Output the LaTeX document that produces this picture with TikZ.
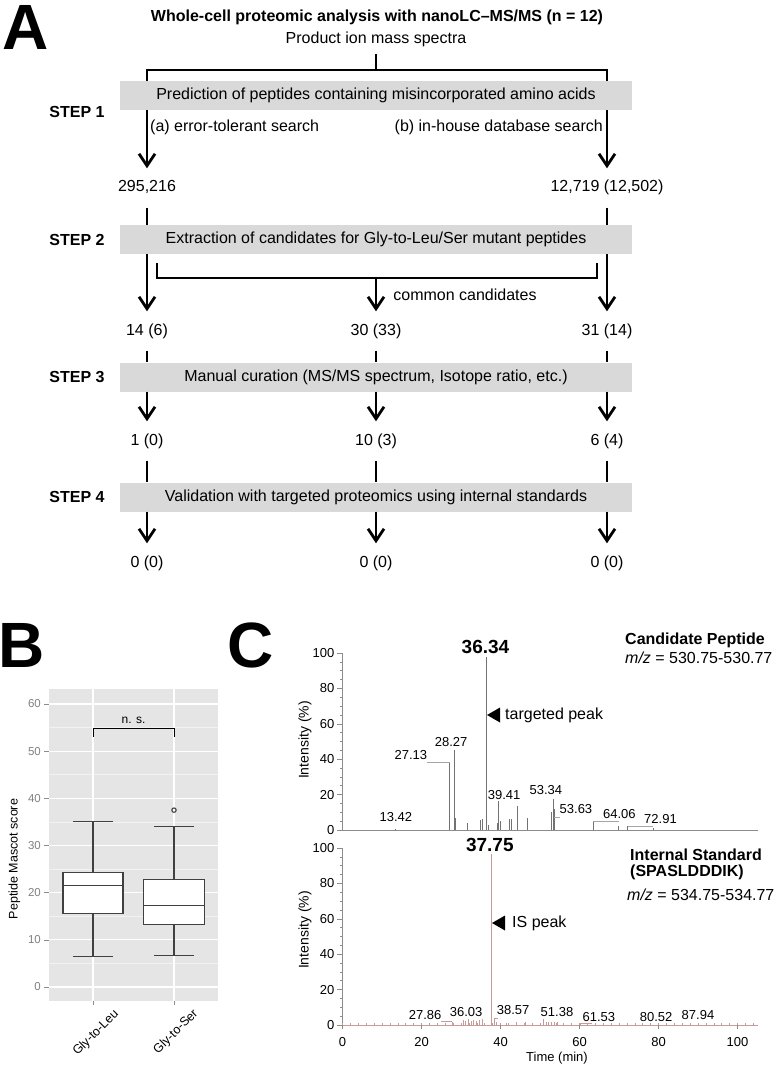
\documentclass[tikz,border=0pt]{standalone}
\usepackage{fontspec}
\setmainfont{Liberation Sans}
\usepackage{xcolor}
\usepackage{tikz}
\usetikzlibrary{arrows.meta,positioning,calc}

\newcommand{\fsize}[1]{\fontsize{#1}{#1}\selectfont}
\definecolor{stepgray}{RGB}{217,217,217}
\definecolor{plotgray}{RGB}{229,229,229}
\definecolor{minorgrid}{RGB}{242,242,242}
\definecolor{isrose}{RGB}{200,155,155}
\definecolor{axgray}{RGB}{140,140,140}

\begin{document}
\begin{tikzpicture}[
  x=1pt,y=-1pt,
  >={Straight Barb[length=12pt,width=16pt]},
  every node/.style={inner sep=0pt,font=\fsize{16}},
  stepbox/.style={fill=stepgray,minimum width=512pt,minimum height=29pt},
  steplabel/.style={font=\fsize{16}\bfseries},
  count/.style={inner sep=12pt,text height=11.5pt,text depth=3.5pt},
  flow/.style={line width=2.8pt},
  letter/.style={font=\fsize{64}\bfseries},
  grid major/.style={white,line width=1.1pt},
  grid minor/.style={minorgrid,line width=0.5pt},
  whisker/.style={draw=black!75,line width=1.1pt},
  tickmark/.style={black!45,line width=0.6pt},
  ticklabel/.style={font=\fsize{13}},
  peak/.style={black!55,line width=0.5pt},
  is peak/.style={isrose,line width=0.5pt},
  leader/.style={black!35,line width=0.4pt}
  ]
  \useasboundingbox (0,0) rectangle (778,1067);

  % A: workflow
  \node[letter] (A) at (26,27) {A};
  \node[font=\fsize{16}\bfseries] (title) at (377,17) {Whole-cell proteomic analysis with nanoLC--MS/MS (n = 12)};
  \node (prod) at (376,39) {Product ion mass spectra};
  \coordinate (split) at (376,70);

  \node[stepbox] (box1) at (376,95.5) {Prediction of peptides containing misincorporated amino acids};
  \node[steplabel,left=15pt of box1.west,yshift=-16.5pt] (s1) {STEP 1};
  \node[anchor=west] (srcha) at (150,127) {(a) error-tolerant search};
  \node[anchor=east] (srchb) at (603,127) {(b) in-house database search};
  \node[count] (n1a) at (147,188) {295,216};
  \node[count] (n1b) at (607,188) {12,719 (12,502)};

  \node[stepbox] (box2) at (376,239.5) {Extraction of candidates for Gly-to-Leu/Ser mutant peptides};
  \node[steplabel,left=15pt of box2.west] (s2) {STEP 2};
  \coordinate (common) at (376,278);
  \node[count] (n2a) at (147,331) {14 (6)};
  \node[count] (n2c) at (376,331) {30 (33)};
  \node[count] (n2b) at (607,331) {31 (14)};

  \node[stepbox] (box3) at (376,377) {Manual curation (MS/MS spectrum, Isotope ratio, etc.)};
  \node[steplabel,left=15pt of box3.west] (s3) {STEP 3};
  \node[count] (n3a) at (147,441) {1 (0)};
  \node[count] (n3c) at (376,441) {10 (3)};
  \node[count] (n3b) at (607,441) {6 (4)};

  \node[stepbox] (box4) at (376,497) {Validation with targeted proteomics using internal standards};
  \node[steplabel,left=15pt of box4.west] (s4) {STEP 4};
  \node[count] (n4a) at (147,563) {0 (0)};
  \node[count] (n4c) at (376,563) {0 (0)};
  \node[count] (n4b) at (607,563) {0 (0)};

  \draw[flow,shorten <=7pt] (prod) -- (split);
  \draw[flow] (box1.north -| n1a) |- (split) -| (box1.north -| n1b);
  \draw[flow,->] (box1.south -| n1a) -- (n1a);
  \draw[flow,->] (box1.south -| n1b) -- (n1b);
  \draw[flow] (n1a) -- (box2.north -| n1a);
  \draw[flow] (n1b) -- (box2.north -| n1b);
  \draw[flow,->] (box2.south -| n2a) -- (n2a);
  \draw[flow,->] (box2.south -| n2b) -- (n2b);
  \draw[flow] ($(box2.south -| n2a)+(10,9)$) |- (common) -| ($(box2.south -| n2b)+(-10,9)$);
  \draw[flow,->] (common) -- node[right=16pt] (cc) {common candidates} (n2c);
  \draw[flow] (n2a) -- (box3.north -| n2a);
  \draw[flow] (n2c) -- (box3.north -| n2c);
  \draw[flow] (n2b) -- (box3.north -| n2b);
  \draw[flow,->] (box3.south -| n3a) -- (n3a);
  \draw[flow,->] (box3.south -| n3c) -- (n3c);
  \draw[flow,->] (box3.south -| n3b) -- (n3b);
  \draw[flow] (n3a) -- (box4.north -| n3a);
  \draw[flow] (n3c) -- (box4.north -| n3c);
  \draw[flow] (n3b) -- (box4.north -| n3b);
  \draw[flow,->] (box4.south -| n4a) -- (n4a);
  \draw[flow,->] (box4.south -| n4c) -- (n4c);
  \draw[flow,->] (box4.south -| n4b) -- (n4b);

  % B: box plot of scores
  \node[letter] (B) at (22,645) {B};
  \begin{scope}[shift={(0,987)},y=4.717pt]
    \fill[plotgray] (49,-2.9) rectangle (218,63.2);
    \foreach \v in {5,15,...,55} \draw[grid minor] (49,\v) -- (218,\v);
    \foreach \v in {0,10,...,60} {
      \draw[grid major] (49,\v) -- (218,\v);
      \draw[tickmark] (44,\v) -- (49,\v);
      \node[font=\fsize{11.5},text=black!50,anchor=east] (sc\v) at (41,\v) {\v};
    }
    \foreach \c in {93,174} {
      \draw[grid major] (\c,-2.9) -- (\c,63.2);
      \draw[tickmark] (\c,-2.9) -- (\c,-3.8);
    }
    % Gly-to-Leu
    \draw[whisker] (93,6.5) -- (93,15.6) (93,24.2) -- (93,35) (73,6.5) -- (113,6.5) (73,35) -- (113,35);
    \draw[whisker,fill=white] (63,15.6) rectangle (123,24.2);
    \draw[whisker] (63,21.5) -- (123,21.5);
    % Gly-to-Ser
    \draw[whisker] (174,6.7) -- (174,13.2) (174,22.8) -- (174,34) (154,6.7) -- (194,6.7) (154,34) -- (194,34);
    \draw[whisker,fill=white] (143.5,13.2) rectangle (204.5,22.8);
    \draw[whisker] (143.5,17.3) -- (204.5,17.3);
    \draw[whisker] (174,37.5) circle[radius=2.2pt];
    \draw[line width=0.8pt] (93,53.1) -- (93,54.8) -- (174,54.8) -- (174,53.1);
    \node[font=\fsize{12}] (ns) at (133.5,56.6) {n. s.};
  \end{scope}
  \node[font=\fsize{12.5},rotate=90] (ylab) at (14.5,859) {Peptide Mascot score};
  \node[font=\fsize{12.5},rotate=45] (xleu) at (96,1033) {Gly-to-Leu};
  \node[font=\fsize{12.5},rotate=45] (xser) at (176,1032) {Gly-to-Ser};

  % C: chromatograms
  \node[letter] (C) at (251,645) {C};
  \begin{scope}[shift={(342.5,830)},x=3.95pt,y=1.77pt]
    \draw[axgray,line width=0.6pt] (0,100) -- (0,0) -- (105.3,0);
    \foreach \v in {0,5,...,100} \draw[tickmark] (0,\v) -- ++(-3pt,0pt);
    \foreach \v in {0,20,...,100} {
      \draw[tickmark] (0,\v) -- ++(-6pt,0pt);
      \node[ticklabel,anchor=east,xshift=-8pt] (ya\v) at (0,\v) {\v};
    }
    \foreach \t/\h in {13.4/0.6,27.13/38.4,28.27/45,28.5/7,31.6/4,34.8/5.6,35.4/6,36.34/97.5,37.0/3,
      39.1/4,39.41/16.4,39.9/5,42.3/6.4,42.7/6,44.2/13.6,46.8/6.6,52.9/10,53.34/17.7,53.6/12,
      63.5/4.7,69.9/2,72.2/2.3,78.7/1.2}
      \draw[peak] (\t,0) -- (\t,\h);
    \draw[leader] (21.4,38.4) -- (27.13,38.4);
    \draw[leader] (53.63,7.3) -- (55.0,7.3);
    \draw[leader] (63.5,4.7) -- (69.9,4.7);
    \draw[leader] (72.2,2.3) -- (78.7,2.3);
    \node[font=\fsize{19}\bfseries] (rt1) at (36.2,103.4) {36.34};
    \node[ticklabel] (p1342) at (13.5,7.3) {13.42};
    \node[ticklabel] (p2713) at (17.3,42.4) {27.13};
    \node[ticklabel] (p2827) at (27.5,49.7) {28.27};
    \node[ticklabel] (p3941) at (40.9,19.8) {39.41};
    \node[ticklabel] (p5334) at (51.5,22.6) {53.34};
    \node[ticklabel] (p5363) at (59.1,11.9) {53.63};
    \node[ticklabel] (p6406) at (70.1,9.0) {64.06};
    \node[ticklabel] (p7291) at (80.5,6.2) {72.91};
  \end{scope}
  \node[font=\fsize{14},rotate=90] (int1) at (305,740) {Intensity (\%)};
  \node[font=\fsize{16}\bfseries,anchor=west] (cand) at (625,640) {Candidate Peptide};
  \node[anchor=west] (mz1) at (625,658) {\textit{m/z} = 530.75-530.77};
  \coordinate (tp1) at (487,715);
  \fill (tp1) -- ++(13,-7.5) -- ++(0,15) -- cycle;
  \node[right=18pt of tp1] (tgt) {targeted peak};

  \begin{scope}[shift={(342.5,1025)},x=3.95pt,y=1.77pt]
    \draw[axgray,line width=0.6pt] (0,100) -- (0,0);
    \draw[isrose,line width=0.6pt] (0,0) -- (105.3,0);
    \foreach \v in {0,5,...,100} \draw[tickmark] (0,\v) -- ++(-3pt,0pt);
    \foreach \v in {0,20,...,100} {
      \draw[tickmark] (0,\v) -- ++(-6pt,0pt);
      \node[ticklabel,anchor=east,xshift=-8pt] (yb\v) at (0,\v) {\v};
    }
    \foreach \t in {0,2,...,104} \draw[is peak] (\t,0) -- ++(0pt,2pt);
    \foreach \t in {0,20,...,100} {
      \draw[tickmark] (\t,0) -- ++(0pt,-4pt);
      \node[ticklabel,yshift=-17pt] (xb\t) at (\t,0) {\t};
    }
    \foreach \t/\h in {27.7/1.9,30.6/3,31.2/2.5,31.8/3.2,32.5/2.2,33.2/2.8,33.9/2,34.6/2.6,35.4/3.2,
      37.6/96.6,38.3/3.8,39.0/1.5,41.5/1,44.1/1.5,46.2/1.5,50.8/3.4,51.6/1.6,52.2/1.8,52.9/1.5,
      53.6/1.5,54.3/1.5,60.1/1.2}
      \draw[is peak] (\t,0) -- (\t,\h);
    \draw[leader,isrose] (25.0,1.9) -- (27.7,1.9);
    \draw[leader,isrose] (38.3,3.8) -- (39.3,3.8);
    \draw[leader,isrose] (60.1,1.2) -- (63.2,1.2);
    \node[font=\fsize{19}\bfseries] (rt2) at (37.3,101.7) {37.75};
    \node[ticklabel] (q2786) at (20.9,5.6) {27.86};
    \node[ticklabel] (q3603) at (31.3,7.3) {36.03};
    \node[ticklabel] (q3857) at (43.2,8.5) {38.57};
    \node[ticklabel] (q5138) at (54.3,7.3) {51.38};
    \node[ticklabel] (q6153) at (64.9,4.5) {61.53};
    \node[ticklabel] (q8052) at (79.4,4.5) {80.52};
    \node[ticklabel] (q8794) at (90.0,5.6) {87.94};
  \end{scope}
  \node[font=\fsize{14},rotate=90] (int2) at (305,930) {Intensity (\%)};
  \node[ticklabel] (time) at (557,1058) {Time (min)};
  \node[font=\fsize{16}\bfseries,anchor=west] (istd) at (630,855) {Internal Standard};
  \node[font=\fsize{16}\bfseries,anchor=west] (seq) at (630,872) {(SPASLDDDIK)};
  \node[anchor=west] (mz2) at (627,895) {\textit{m/z} = 534.75-534.77};
  \coordinate (tp2) at (492,923);
  \fill (tp2) -- ++(13,-7.5) -- ++(0,15) -- cycle;
  \node[right=20pt of tp2] (isp) {IS peak};
\end{tikzpicture}
\end{document}
